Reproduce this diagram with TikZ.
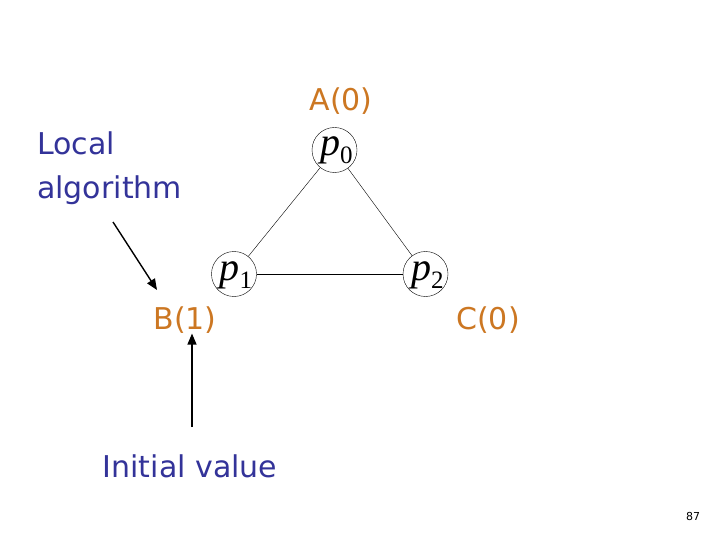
\documentclass[tikz,border=0pt]{standalone}
\usepackage{fontspec}
\setsansfont{DejaVu Sans}
\newfontfamily\tms{Liberation Serif}
\usetikzlibrary{arrows.meta}
\definecolor{lblue}{RGB}{51,51,153}
\definecolor{lorange}{RGB}{204,119,34}
\newcommand{\plab}[1]{{\tms\fontsize{40}{40}\selectfont\itshape p}{\tms\fontsize{25}{25}\selectfont\raisebox{-8pt}{#1}}}
\tikzset{
  proc/.style={circle,draw,thin,minimum size=45pt,inner sep=0pt},
  plabel/.style={anchor=base west,inner sep=0pt},
  val/.style={text=lorange,font=\sffamily\fontsize{30}{34}\selectfont,inner sep=0pt},
  note/.style={text=lblue,font=\sffamily\fontsize{30}{45}\selectfont,inner sep=0pt},
  arr/.style={-{Triangle[length=11pt,width=9pt]},line width=1.4pt},
  edge/.style={thin}
}
\begin{document}
\begin{tikzpicture}[x=1pt,y=-1pt]
\useasboundingbox (0,0) rectangle (720,540);
\node[proc] (p0) at (334.5,150) {};
\node[proc] (p1) at (234,274) {};
\node[proc] (p2) at (425.5,274) {};
\node[plabel] (t0) at (320,156) {\plab{0}};
\node[plabel] (t1) at (219.5,280) {\plab{1}};
\node[plabel] (t2) at (411,280) {\plab{2}};
\draw[edge] (p0) -- (p1);
\draw[edge] (p0) -- (p2);
\draw[edge] (p1) -- (p2);
\node[val] (A) at (341,101) {A(0)};
\node[val] (B) at (185,320) {B(1)};
\node[val] (C) at (488,320) {C(0)};
\node[note,anchor=base west] (L) at (37,155) {Local};
\node[note,anchor=base west] (L2) at (37,199) {algorithm};
\node[note] (I) at (190,466) {Initial value};
\coordinate (l1) at (113,222);
\coordinate (i1) at (192,427);
\draw[arr] (l1) -- (157,290);
\draw[arr] (i1) -- (B.south -| i1);
\node[font=\sffamily\fontsize{11}{13}\selectfont] (n) at (693,516) {87};
\end{tikzpicture}
\end{document}
